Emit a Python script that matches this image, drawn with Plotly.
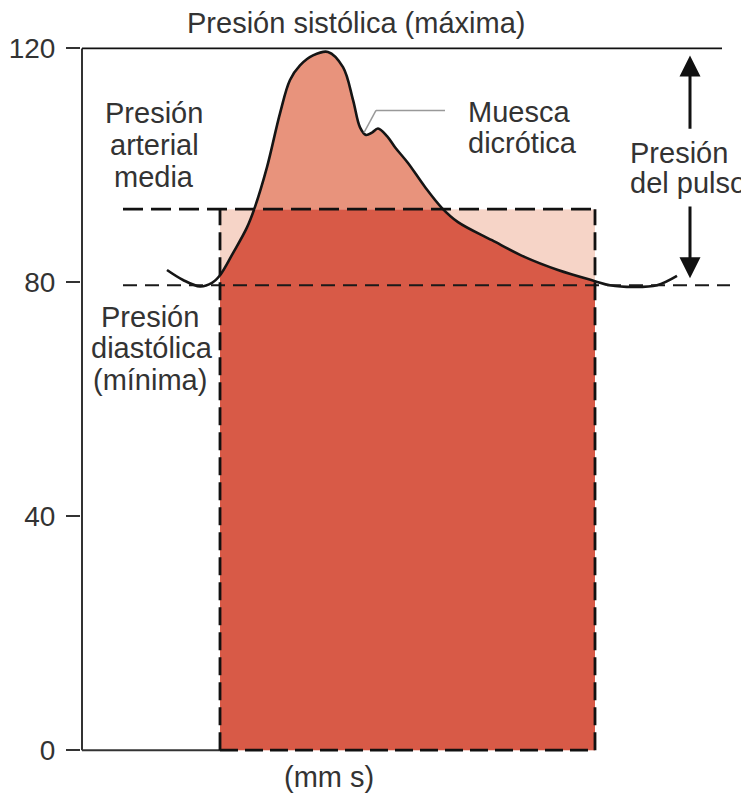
import plotly.graph_objects as go

# ---------------- data ----------------
# time (arbitrary units) and arterial pressure (mmHg) of the waveform
t = [85, 101, 118, 130, 138, 151, 165, 173, 185, 198, 208, 218, 231, 246,
     261, 271, 278, 284, 290, 296, 305, 313, 326, 343, 360, 376, 410, 443,
     476, 513, 528, 551, 575, 595]
p = [82.1, 80.4, 79.3, 79.9, 81.2, 85.0, 89.4, 92.9, 99.7, 108.9, 114.6, 117.1, 118.8, 119.4,
     116.8, 111.2, 106.5, 105.2, 105.6, 106.3, 105.0, 103.1, 100.4, 96.3, 92.7, 90.3, 87.2, 84.3,
     82.1, 80.2, 79.5, 79.2, 79.5, 81.1]

T_START = 138          # start of the cardiac cycle
T_END = 513            # end of the cardiac cycle
SYSTOLIC = 120         # presión sistólica
DIASTOLIC = 79.5       # presión diastólica (dashed line)
MAP = 92.5             # presión arterial media

y_ticks = [0, 40, 80, 120]
y_tick_labels = ["0", "40", "80", "120"]

# ---------------- styling ----------------
FONT = "Liberation Sans, Arial, Helvetica, sans-serif"
FS = 29
TXT = "#333333"
RED = "#D85A47"
SALMON = "#E8937C"
PINK = "#F6D4C7"
Y_MIN, Y_MAX = -1, 124
X_MIN, X_MAX = -1, 658

def y_paper(v):
    return (v - Y_MIN) / (Y_MAX - Y_MIN)

t_cyc = [a for a in t if T_START <= a <= T_END]
p_cyc = [b for a, b in zip(t, p) if T_START <= a <= T_END]

fig = go.Figure()

# layer A (full height)
fig.add_trace(go.Scatter(x=[T_START, T_END], y=[MAP, MAP], mode="lines",
                         line=dict(width=0), fill="tozeroy", fillcolor=PINK,
                         hoverinfo="skip"))
fig.add_trace(go.Scatter(x=t_cyc, y=p_cyc, mode="lines",
                         line=dict(width=0, shape="spline"), fill="tozeroy",
                         fillcolor=RED, hoverinfo="skip"))
fig.add_trace(go.Scatter(x=t, y=p, mode="lines",
                         line=dict(color="#151515", width=2.6, shape="spline"),
                         hoverinfo="skip"))
# layer B (only above the mean pressure)
fig.add_trace(go.Scatter(x=t_cyc, y=p_cyc, mode="lines", yaxis="y2",
                         line=dict(width=0, shape="spline"), fill="tozeroy",
                         fillcolor=SALMON, hoverinfo="skip"))
fig.add_trace(go.Scatter(x=t, y=p, mode="lines", yaxis="y2",
                         line=dict(color="#151515", width=2.6, shape="spline"),
                         hoverinfo="skip"))

shapes = []
def line(x0, y0, x1, y1, color="#222", width=2, dash="solid"):
    shapes.append(dict(type="line", xref="x", yref="y", x0=x0, y0=y0, x1=x1, y1=y1,
                       layer="above", line=dict(color=color, width=width, dash=dash)))

line(0, 0, 0, SYSTOLIC, color="#333", width=2)
line(0, 0, T_START, 0, color="#333", width=2)
line(0, SYSTOLIC, 640, SYSTOLIC, color="#111", width=1.6)
line(41, DIASTOLIC, 648, DIASTOLIC, color="#1a1a1a", width=2.2, dash="14px,8px")
line(41, MAP, T_END, MAP, color="#111", width=2.8, dash="20px,8px")
line(T_START, 0, T_START, MAP, color="#111", width=2.8, dash="18px,7px")
line(T_END, 0, T_END, MAP, color="#111", width=2.8, dash="18px,7px")
line(T_START, 0, T_END, 0, color="#111", width=2.8, dash="18px,7px")
# leader for the dicrotic notch
line(282, 105.6, 294, 109.4, color="#999", width=1.5)
line(294, 109.4, 363, 109.4, color="#999", width=1.5)

ann = []
def text(x, y, s, anchor="center", paper=False):
    ann.append(dict(x=x, y=y_paper(y) if paper else y, xref="x",
                    yref="paper" if paper else "y", text=s, showarrow=False,
                    xanchor=anchor, yanchor="middle",
                    font=dict(family=FONT, size=FS, color=TXT)))

text(273.5, 124.4, "Presión sistólica (máxima)", paper=True)
text(72, 108.9, "Presión")
text(72, 103.5, "arterial")
text(72, 98.0, "media")
text(68, 74.0, "Presión")
text(70, 68.7, "diastólica")
text(68, 63.3, "(mínima)")
text(384, 109.1, "Muesca", "left")
text(384, 103.8, "dicrótica", "left")
text(546, 102.1, "Presión", "left")
text(546, 97.0, "del pulso", "left")
text(247, -4.6, "(mm s)", paper=True)

# pulse pressure double arrow
for tip, tail in [(118.8, 106.0), (80.7, 93.2)]:
    ann.append(dict(x=608, y=tip, ax=608, ay=tail, xref="x", yref="y",
                    axref="x", ayref="y", text="", showarrow=True,
                    arrowhead=2, arrowsize=1.4, arrowwidth=3, arrowcolor="#111"))

# the page body adds an 8px offset, so the figure is 8px smaller than the window
fig.update_layout(
    width=741, height=788,
    margin=dict(l=73, r=9, t=17, b=40),
    paper_bgcolor="white", plot_bgcolor="white",
    showlegend=False,
    shapes=shapes, annotations=ann,
    xaxis=dict(range=[X_MIN, X_MAX], visible=False, fixedrange=True, automargin=False),
    yaxis=dict(range=[Y_MIN, Y_MAX], tickvals=y_ticks, ticktext=y_tick_labels,
               ticks="outside", ticklen=14, tickwidth=2, tickcolor="#333",
               showline=False, showgrid=False, zeroline=False,
               ticklabelstandoff=5, automargin=False,
               tickfont=dict(family=FONT, size=28, color=TXT)),
    yaxis2=dict(domain=[y_paper(MAP), 1], range=[MAP, Y_MAX],
                anchor="x", visible=False, fixedrange=True),
)

fig.write_html("out.html")
